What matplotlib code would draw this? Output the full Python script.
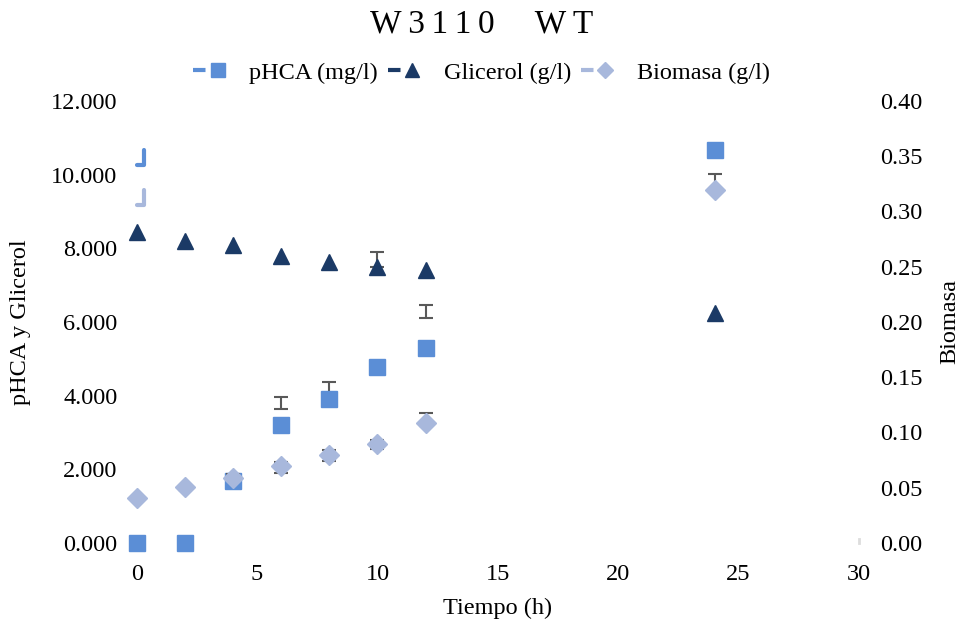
import matplotlib.pyplot as plt
from matplotlib.lines import Line2D

plt.rcParams['font.family'] = ['Liberation Serif', 'DejaVu Serif']

tiempo = [0, 2, 4, 6, 8, 10, 12, 24]
phca = [0.0, 0.0, 1.68, 3.20, 3.91, 4.78, 5.30, 10.67]
glicerol = [8.45, 8.20, 8.10, 7.78, 7.62, 7.48, 7.42, 6.25]
biomasa = [0.041, 0.051, 0.059, 0.070, 0.080, 0.090, 0.109, 0.319]

# error bars (they sit a bit off the points in the original)
err_x_left = [6, 8, 10, 12, 10]
err_c_left = [3.81, 4.22, 4.80, 6.28, 7.70]
err_h_left = [0.16, 0.15, 0.08, 0.17, 0.20]
err_x_right = [2, 4, 6, 8, 10, 12, 24]
err_c_right = [0.050, 0.060, 0.068, 0.079, 0.089, 0.112, 0.326]
err_h_right = [0.002, 0.002, 0.005, 0.005, 0.004, 0.006, 0.008]

# small stray line pieces near x=0 in the original (left axis units)
stray_x = [0.0, 0.29, 0.29]
stray_phca = [10.26, 10.26, 10.67]
stray_bio = [9.18, 9.18, 9.58]

c_phca = '#5B8ED6'
c_gli = '#1B3A66'
c_bio = '#A8B8DC'
c_err = '#595959'

fig = plt.figure(figsize=(9.63, 6.27), dpi=100)
ax = fig.add_axes([0.142, 0.134, 0.750, 0.705])
ax2 = ax.twinx()

ax.plot(stray_x, stray_phca, color=c_phca, lw=3, solid_joinstyle='round',
        solid_capstyle='round', clip_on=False)
ax.plot(stray_x, stray_bio, color=c_bio, lw=3, solid_joinstyle='round',
        solid_capstyle='round', clip_on=False)
ax.plot([30, 30], [0, 0.12], color='#dddddd', lw=2, clip_on=False)

ax.errorbar(err_x_left, err_c_left, yerr=err_h_left, fmt='none', ecolor=c_err,
            elinewidth=1.5, capsize=5, capthick=1.5, zorder=2)
ax2.errorbar(err_x_right, err_c_right, yerr=err_h_right, fmt='none', ecolor=c_err,
             elinewidth=1.5, capsize=5, capthick=1.5, zorder=2)

ax.plot(tiempo, phca, 's', color=c_phca, ms=12, zorder=3, clip_on=False)
ax.plot(tiempo, glicerol, '^', color=c_gli, ms=12, zorder=3, clip_on=False)
ax2.plot(tiempo, biomasa, 'D', color=c_bio, ms=10, zorder=3, clip_on=False)

ax.set_xlim(0, 30)
ax.set_ylim(0, 12)
ax2.set_ylim(0, 0.40)
ax.set_xticks([0, 5, 10, 15, 20, 25, 30])
ax.set_yticks(range(0, 13, 2))
ax.set_yticklabels([f'{v:.3f}' for v in range(0, 13, 2)])
ax2.set_yticks([0, 0.05, 0.10, 0.15, 0.20, 0.25, 0.30, 0.35, 0.40])
ax2.set_yticklabels([f'{v:.2f}' for v in ax2.get_yticks()])

for a in (ax, ax2):
    for s in a.spines.values():
        s.set_visible(False)
    a.tick_params(length=0, labelsize=17.5, colors='black')
ax.tick_params(axis='y', pad=14)
ax2.tick_params(axis='y', pad=15)
ax.tick_params(axis='x', pad=15)

ax.set_xlabel('Tiempo (h)', fontsize=17.5, labelpad=9)
ax.set_ylabel('pHCA y Glicerol', fontsize=17.5, labelpad=14)
ax2.set_ylabel('Biomasa', fontsize=17.5, labelpad=12)

fig.suptitle('W\u20093\u20091\u20091\u20090\u2003\u2009W\u2009T', y=0.985,
             fontsize=24)

dash = (0, (3, 40))
handles = [
    Line2D([], [], color=c_phca, marker='s', ms=10, lw=3, linestyle=dash),
    Line2D([], [], color=c_gli, marker='^', ms=10, lw=3, linestyle=dash),
    Line2D([], [], color=c_bio, marker='D', ms=8, lw=3, linestyle=dash),
]
fig.legend(handles, ['pHCA (mg/l)', 'Glicerol (g/l)', 'Biomasa (g/l)'],
           loc='center', bbox_to_anchor=(0.5, 0.884), ncol=3, frameon=False,
           fontsize=17.5, numpoints=1, handlelength=2.0, columnspacing=0.4,
           handletextpad=0.3)

fig.savefig('out.png', dpi=100)
